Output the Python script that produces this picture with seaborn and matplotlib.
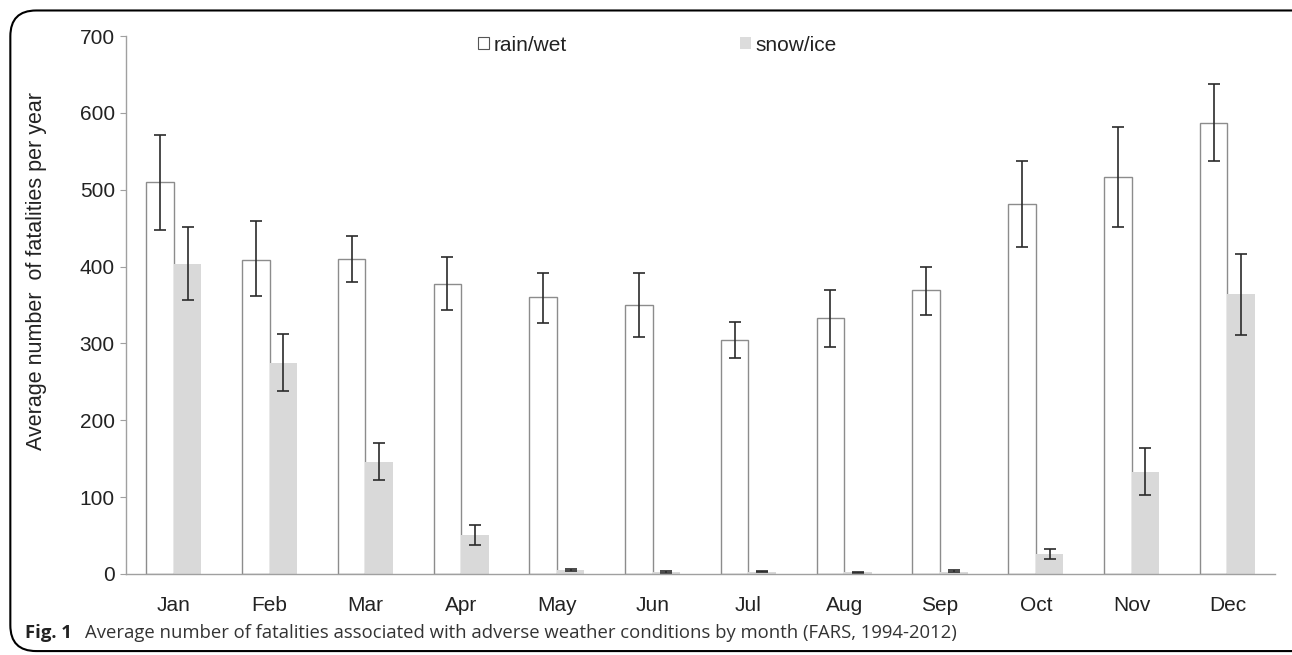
import numpy as np
import pandas as pd
import matplotlib
matplotlib.use("Agg")
import matplotlib.pyplot as plt
import seaborn as sns
from matplotlib.patches import FancyBboxPatch, Patch

# data
months = ["Jan", "Feb", "Mar", "Apr", "May", "Jun", "Jul", "Aug", "Sep", "Oct", "Nov", "Dec"]
rain = [510, 409, 410, 377, 360, 350, 304, 333, 369, 482, 517, 587]
rain_lo = [448, 362, 380, 343, 327, 309, 281, 295, 337, 426, 451, 537]
rain_hi = [571, 459, 440, 412, 392, 391, 328, 369, 400, 537, 582, 638]
snow = [403, 275, 146, 51, 5, 3, 3, 2, 3, 26, 133, 364]
snow_lo = [357, 238, 122, 38, 4, 1, 2, 1, 2, 20, 103, 311]
snow_hi = [452, 312, 170, 64, 6, 4, 4, 3, 5, 32, 164, 417]

df = pd.DataFrame({
    "month": months * 2,
    "value": rain + snow,
    "lo": rain_lo + snow_lo,
    "hi": rain_hi + snow_hi,
    "cond": ["rain/wet"] * 12 + ["snow/ice"] * 12,
})

sns.set_style("white")
plt.rcParams["font.family"] = ["Liberation Sans", "DejaVu Sans"]

fig = plt.figure(figsize=(12.92, 6.55), dpi=100)
ax = fig.add_axes([0.0975, 0.1237, 0.8895, 0.8213])

sns.barplot(data=df, x="month", y="value", hue="cond", order=months,
            hue_order=["rain/wet", "snow/ice"], palette=["white", "#d9d9d9"],
            width=0.575, errorbar=None, legend=False, ax=ax)

# style the bars and add the error bars
n = len(months)
for i, p in enumerate(ax.patches[:2 * n]):
    if i < n:
        p.set_edgecolor("#8c8c8c")
        p.set_linewidth(1.0)
    else:
        p.set_edgecolor("none")
    row = df.iloc[i]
    xc = p.get_x() + p.get_width() / 2
    ax.errorbar(xc, row["value"],
                yerr=[[row["value"] - row["lo"]], [row["hi"] - row["value"]]],
                fmt="none", ecolor="#2b2b2b", elinewidth=1.2, capsize=4, capthick=1.2)

ax.set_ylim(0, 700)
ax.set_yticks(range(0, 701, 100))
ax.set_xlim(-0.5, n - 0.5)
ax.set_xlabel("")
ax.set_ylabel("Average number  of fatalities per year", fontsize=15.5, color="#222222")
ax.yaxis.set_label_coords(-0.069, 0.563)
ax.tick_params(axis="y", length=4, color="#a0a0a0", labelsize=15, pad=4, left=True,
               labelcolor="#222222")
ax.tick_params(axis="x", length=0, labelsize=15, pad=16, labelcolor="#222222")
for s in ["top", "right"]:
    ax.spines[s].set_visible(False)
for s in ["left", "bottom"]:
    ax.spines[s].set_color("#a0a0a0")
    ax.spines[s].set_linewidth(1.0)

handles = [Patch(facecolor="white", edgecolor="#555555", linewidth=0.8, label="rain/wet"),
           Patch(facecolor="#dcdcdc", edgecolor="none", label="snow/ice")]
fig.legend(handles=handles, loc="center", bbox_to_anchor=(0.509, 0.931), ncol=2,
           frameon=False, fontsize=15, handlelength=0.5, handleheight=0.5,
           handletextpad=0.25, columnspacing=8.3, labelcolor="#222222")

# caption and border
cap_font = ["Open Sans", "DejaVu Sans"]
fig.text(0.0193, 0.033, "Fig. 1", fontsize=13.3, fontweight="bold",
         family=cap_font, va="center", color="#222222")
fig.text(0.0658, 0.033,
         "Average number of fatalities associated with adverse weather conditions by month (FARS, 1994-2012)",
         fontsize=13.3, family=cap_font, va="center", color="#333333")
box = FancyBboxPatch((0.008, 0.006), 1.2, 0.978, boxstyle="round,pad=0,rounding_size=0.02",
                     transform=fig.transFigure, fill=False, edgecolor="black", linewidth=1.5,
                     mutation_aspect=1292 / 655)
fig.patches.append(box)

fig.savefig("out.png", dpi=100)
